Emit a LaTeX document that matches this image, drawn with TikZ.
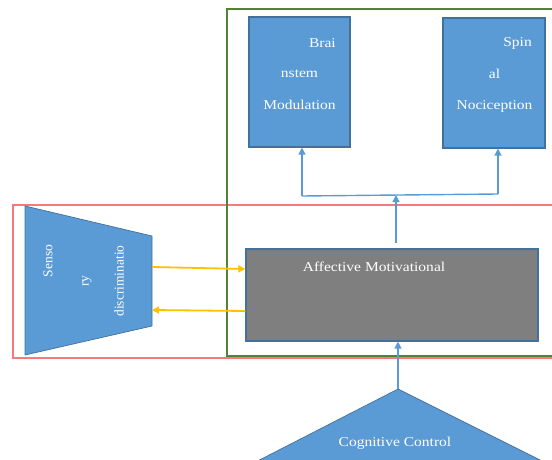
\documentclass[tikz,border=0pt]{standalone}
\usepackage{tikz}
\usepackage{xcolor}
\usepackage{fontspec}
\setmainfont{Liberation Serif}
\usetikzlibrary{arrows.meta}

\definecolor{boxblue}{RGB}{91,155,213}
\definecolor{edgeblue}{RGB}{65,113,156}
\definecolor{boxgray}{RGB}{127,127,127}
\definecolor{arrowyel}{RGB}{255,192,0}
\definecolor{framegreen}{RGB}{84,130,53}
\definecolor{framered}{RGB}{250,120,125}

\begin{document}
\begin{tikzpicture}
  [x=1pt,y=-1pt,
   every node/.style={text=white,font=\fontsize{13.5}{15}\selectfont,inner sep=0pt},
   box/.style={rectangle,draw=edgeblue,line width=1.2pt,fill=boxblue},
   wide/.style={xscale=1.15,transform shape},
   bluearrow/.style={draw=boxblue,line width=1.4pt,-{Triangle[length=7pt,width=7pt]}},
   yelarrow/.style={draw=arrowyel,line width=1.8pt,-{Triangle[length=7pt,width=7pt]}}]
  \useasboundingbox (0,0) rectangle (552,460);
  \clip (0,0) rectangle (552,460);

  % frames
  \draw[framered,line width=1.2pt] (13,205) rectangle (570,358);
  \draw[framegreen,line width=1.4pt] (227,9) rectangle (570,356);

  % sensory discriminative part
  \draw[fill=boxblue,draw=edgeblue,line width=0.7pt]
    (25,206) -- (152,236) -- (152,326) -- (25,355) -- cycle;
  \node[rotate=90] (sen1) at (48,261) {Senso};
  \node[rotate=90] (sen2) at (87,281) {ry};
  \node[rotate=90] (sen3) at (119,281) {discriminatio};
  \coordinate (sout) at (152,267);
  \coordinate (sin) at (152,310);

  % boxes
  \node[box,minimum width=101pt,minimum height=130pt] (bs) at (299.5,82) {};
  \node[box,minimum width=102pt,minimum height=130pt] (sn) at (494,83) {};
  \node[box,fill=boxgray,minimum width=292pt,minimum height=92pt] (aff) at (392,295) {};

  \node[wide,anchor=east] (bs1) at (336,43) {Brai};
  \node[wide] (bs2) at (299.5,74) {nstem};
  \node[wide] (bs3) at (299.5,105) {Modulation};
  \node[wide,anchor=east] (sn1) at (532,43) {Spin};
  \node[wide] (sn2) at (494.5,74) {al};
  \node[wide] (sn3) at (494.5,106) {Nociception};
  \node[wide] (afftext) at (374,267) {Affective Motivational};

  % cognitive control
  \draw[fill=boxblue,draw=edgeblue,line width=0.7pt]
    (398,389) -- (560,470) -- (240,470) -- cycle;
  \coordinate (cc) at (398,389);
  \node[wide] (cctext) at (395,443) {Cognitive Control};

  % connectors
  \coordinate (up) at (396,195);
  \coordinate (jl) at (302,196);
  \coordinate (jr) at (498,194);
  \draw[bluearrow] (aff.north -| up) ++(0,-5) -- (up);
  \draw[draw=boxblue,line width=1.4pt] (jl) -- (jr);
  \foreach \from/\to in {jl/bs,jr/sn}
    \draw[bluearrow] (\from) -- (\to.south -| \from);
  \draw[bluearrow] (cc) -- (aff.south -| cc);

  \draw[yelarrow] (sout) -- ([yshift=26pt]aff.west);
  \draw[yelarrow] ([yshift=-16pt]aff.west) -- (sin);

\end{tikzpicture}
\end{document}
